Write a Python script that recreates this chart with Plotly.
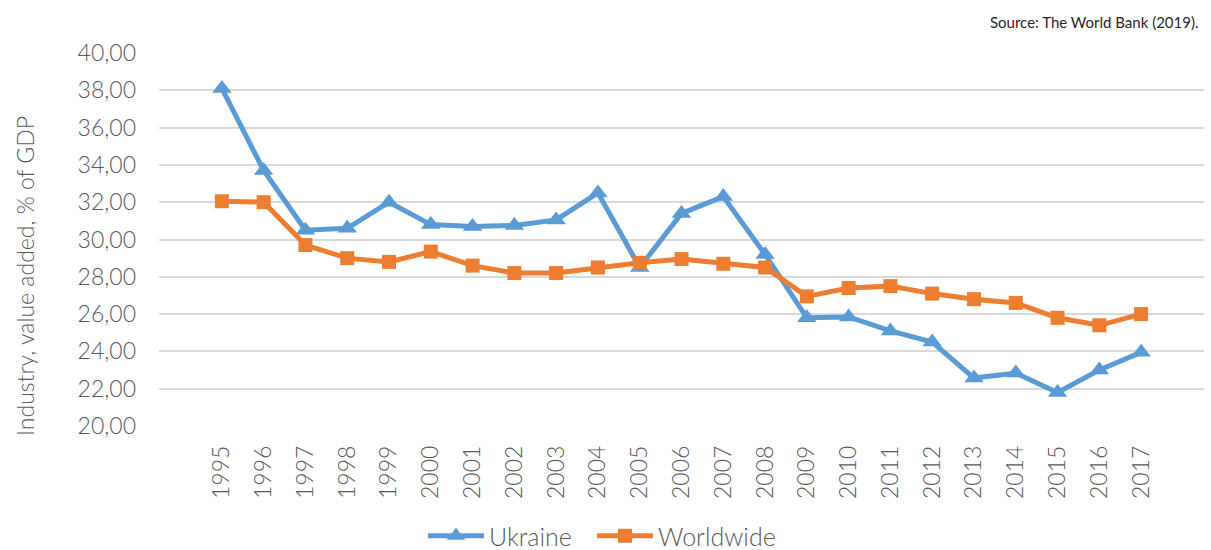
import plotly.graph_objects as go

years = [str(y) for y in range(1995, 2018)]
ukraine = [38.1, 33.7, 30.5, 30.6, 32.0, 30.8, 30.7, 30.75, 31.05, 32.5, 28.5, 31.4, 32.3, 29.2,
           25.8, 25.85, 25.1, 24.5, 22.57, 22.84, 21.8, 23.0, 23.95]
worldwide = [32.05, 32.0, 29.7, 29.0, 28.8, 29.35, 28.6, 28.2, 28.2, 28.5, 28.75, 28.95, 28.7, 28.5,
             26.95, 27.4, 27.5, 27.1, 26.8, 26.6, 25.8, 25.4, 26.0]

BLUE = "#5B9BD5"
ORANGE = "#ED7D31"
FONT = "Lato"
GREY = "#595959"

fig = go.Figure()
fig.add_trace(go.Scatter(x=years, y=ukraine, name="Ukraine", mode="lines+markers",
                         line=dict(color=BLUE, width=5), legend="legend",
                         marker=dict(symbol="triangle-up", size=17, color=BLUE)))
fig.add_trace(go.Scatter(x=years, y=worldwide, name="Worldwide", mode="lines+markers",
                         line=dict(color=ORANGE, width=5), legend="legend2",
                         marker=dict(symbol="square", size=14, color=ORANGE)))

leg_common = dict(orientation="h", xref="container", xanchor="left",
                  y=(550 - 536) / 550, yref="container", yanchor="middle",
                  font=dict(size=25, color=GREY, family=FONT, weight=300),
                  itemwidth=56, bgcolor="rgba(0,0,0,0)")

fig.update_layout(
    width=1211, height=550,
    margin=dict(l=159, r=7, t=53, b=124, autoexpand=False),
    plot_bgcolor="white", paper_bgcolor="white",
    separators=", ",
    font=dict(family=FONT, color=GREY, weight=300),
    showlegend=True,
    legend=dict(x=423 / 1211, **leg_common),
    legend2=dict(x=592 / 1211, **leg_common),
    xaxis=dict(type="category", tickangle=-90, tickfont=dict(size=23, color=GREY, weight=300),
               showgrid=False, showline=False, ticks="", ticklabelstandoff=14, automargin=False),
    yaxis=dict(range=[20, 40], dtick=2, tickformat=".2f", showgrid=True, gridcolor="#D9D9D9",
               gridwidth=1.5, zeroline=False, showline=False, ticks="", automargin=False,
               tickfont=dict(size=23, color=GREY, weight=300), ticklabelstandoff=22),
    annotations=[
        dict(text="Source: The World Bank (2019).", xref="paper", yref="paper",
             x=(1201 - 159) / 1045, y=(426 - 22) / 373, xanchor="right", yanchor="middle",
             showarrow=False, font=dict(size=15, color="#262626", family=FONT, weight=400)),
        dict(text="Industry, value added, % of GDP", xref="paper", yref="paper",
             x=(25 - 159) / 1045, y=(426 - 276) / 373, xanchor="center", yanchor="middle",
             textangle=-90, showarrow=False,
             font=dict(size=23, color=GREY, family=FONT, weight=300)),
    ],
)

fig.write_html("out.html", config={"displayModeBar": False},
               post_script="document.body.style.margin='0';document.body.style.overflow='hidden';")
